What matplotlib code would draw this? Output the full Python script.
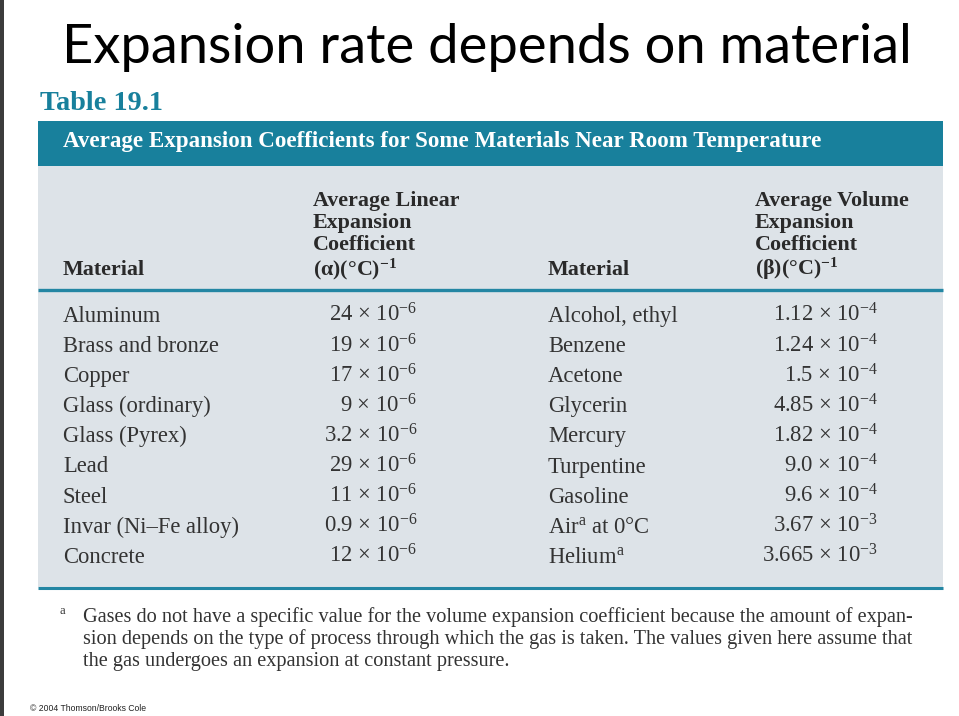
import matplotlib
matplotlib.use("Agg")
import matplotlib.pyplot as plt
from matplotlib.patches import Rectangle

# ---------------- data ----------------
title = "Expansion rate depends on material"
table_label = "Table 19.1"
table_caption = "Average Expansion Coefficients for Some Materials Near Room Temperature"

solids = ["Aluminum", "Brass and bronze", "Copper", "Glass (ordinary)", "Glass (Pyrex)",
          "Lead", "Steel", "Invar (Ni\u2013Fe alloy)", "Concrete"]
linear_mantissa = ["24", "19", "17", "9", "3.2", "29", "11", "0.9", "12"]
linear_exponent = [-6, -6, -6, -6, -6, -6, -6, -6, -6]

fluids = ["Alcohol, ethyl", "Benzene", "Acetone", "Glycerin", "Mercury",
          "Turpentine", "Gasoline", "Air$^{\\mathrm{a}}$ at 0\u00b0C", "Helium$^{\\mathrm{a}}$"]
volume_mantissa = ["1.12", "1.24", "1.5", "4.85", "1.82", "9.0", "9.6", "3.67", "3.665"]
volume_exponent = [-4, -4, -4, -4, -4, -4, -4, -3, -3]

linear_header = ["Average Linear", "Expansion", "Coefficient", "(\u03b1)(\u00b0C)$^{\\mathbf{-1}}$"]
volume_header = ["Average Volume", "Expansion", "Coefficient", "(\u03b2)(\u00b0C)$^{\\mathbf{-1}}$"]
material_header = "Material"

footnote_lines = [
    "Gases do not have a specific value for the volume expansion coefficient because the amount of expan-",
    "sion depends on the type of process through which the gas is taken. The values given here assume that",
    "the gas undergoes an expansion at constant pressure.",
]
copyright_text = "\u00a9 2004 Thomson/Brooks Cole"

# ---------------- style ----------------
plt.rcParams["mathtext.fontset"] = "custom"
plt.rcParams["mathtext.rm"] = "Liberation Serif"
plt.rcParams["mathtext.it"] = "Liberation Serif:italic"
plt.rcParams["mathtext.bf"] = "Liberation Serif:bold"

SERIF = ["Liberation Serif", "DejaVu Serif"]
TEAL = "#18809c"
TEAL_LINE = "#2386a3"
PANEL = "#dde3e8"
BODY = "#333333"
HEAD = "#2a2a2a"

W, H = 959, 716
fig = plt.figure(figsize=(W / 100, H / 100), dpi=100)
fig.patch.set_facecolor("white")
ax = fig.add_axes([0, 0, 1, 1])
ax.set_xlim(0, W)
ax.set_ylim(H, 0)
ax.axis("off")

renderer = fig.canvas.get_renderer()


def fit_text(s, x, y, width, **kw):
    t = ax.text(x, y, s, fontsize=10, **kw)
    bb = t.get_window_extent(renderer)
    t.set_fontsize(10 * width / bb.width)
    return t


# left dark strip
ax.add_patch(Rectangle((0, 0), 4, H, color="#3c3c3c", lw=0))

# slide title
fit_text(title, 62, 63, 851, family=["Lato", "DejaVu Sans"], color="black", va="baseline")

# table label
fit_text(table_label, 40, 110, 123, family=SERIF, weight="bold", color=TEAL, va="baseline")

# table frame
x0, x1 = 38, 943
ax.add_patch(Rectangle((x0, 121), x1 - x0, 45, color=TEAL, lw=0))
ax.add_patch(Rectangle((x0, 166), x1 - x0, 421, color=PANEL, lw=0))
ax.hlines(290, x0, x1, color=TEAL_LINE, lw=2.4)
ax.hlines(587.5, x0, x1, color=TEAL_LINE, lw=2.2)

fit_text(table_caption, 63, 147, 763, family=SERIF, weight="bold", color="white", va="baseline")

# column headers
FS = 16.3
FSH = 15.8
hdr_base = [206, 228, 250, 275]
for i, (a, b) in enumerate(zip(linear_header, volume_header)):
    ax.text(313, hdr_base[i], a, family=SERIF, weight="bold", fontsize=FSH, color=HEAD, va="baseline")
    ax.text(755, hdr_base[i], b, family=SERIF, weight="bold", fontsize=FSH, color=HEAD, va="baseline")
ax.text(63, 275, material_header, family=SERIF, weight="bold", fontsize=FSH, color=HEAD, va="baseline")
ax.text(548, 275, material_header, family=SERIF, weight="bold", fontsize=FSH, color=HEAD, va="baseline")

# body rows
row0, dy = 322, 30.1
for i in range(len(solids)):
    yb = row0 + i * dy
    ax.text(63, yb, solids[i], family=SERIF, fontsize=FS, color=BODY, va="baseline")
    ax.text(417, yb, "%s $\\times$ 10$^{%d}$" % (linear_mantissa[i], linear_exponent[i]),
            family=SERIF, fontsize=FS, color=BODY, va="baseline", ha="right")
    ax.text(548, yb, fluids[i], family=SERIF, fontsize=FS, color=BODY, va="baseline")
    ax.text(878, yb, "%s $\\times$ 10$^{%d}$" % (volume_mantissa[i], volume_exponent[i]),
            family=SERIF, fontsize=FS, color=BODY, va="baseline", ha="right")

# footnote
ax.text(60, 614, "a", family=SERIF, fontsize=9, color=BODY, va="baseline")
t0 = fit_text(footnote_lines[0], 83, 622, 829, family=SERIF, color=BODY, va="baseline")
fs_note = t0.get_fontsize()
ax.text(83, 644, footnote_lines[1], family=SERIF, fontsize=fs_note, color=BODY, va="baseline")
ax.text(83, 666, footnote_lines[2], family=SERIF, fontsize=fs_note, color=BODY, va="baseline")

# copyright
ax.text(30, 711, copyright_text, family=["Liberation Sans", "DejaVu Sans"], fontsize=6.2,
        color="#222222", va="baseline")

fig.savefig("out.png", dpi=100, facecolor="white")
